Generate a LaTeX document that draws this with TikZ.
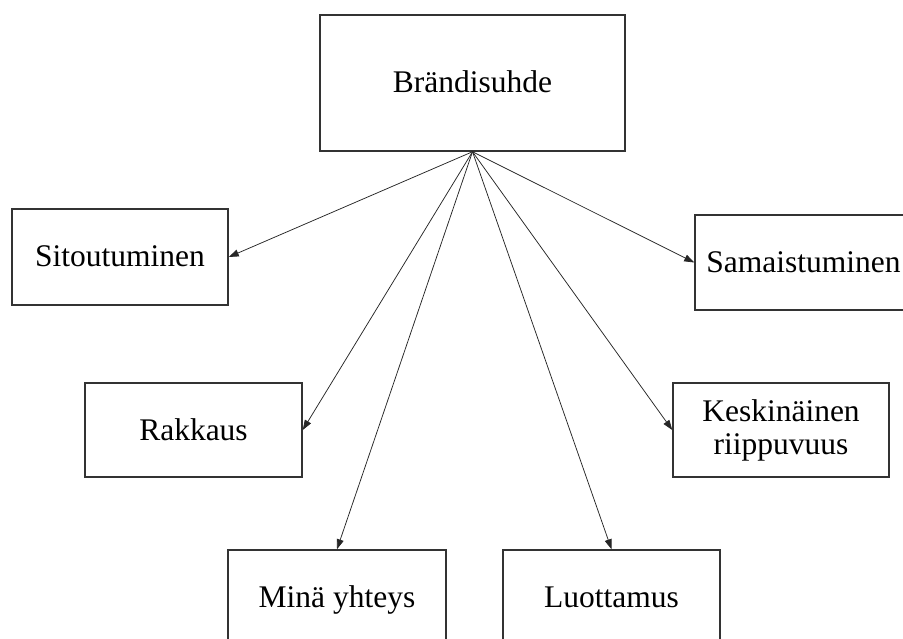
\documentclass[tikz,border=0pt]{standalone}
\usepackage{fontspec}
\setmainfont{Liberation Serif}
\usetikzlibrary{arrows.meta}
\tikzset{
  conceptbox/.style={draw=black!80, line width=1.5pt, fill=white, align=center,
    font=\fontsize{31.5}{33}\selectfont, inner sep=0pt},
  oneline/.style={conceptbox, text height=22pt, text depth=2pt},
  link/.style={draw=black!85, line width=0.75pt, -{Triangle[length=10pt,width=7pt]}}
}
\begin{document}
\begin{tikzpicture}[x=1pt, y=-1pt]
  \useasboundingbox (0,0) rectangle (903,639);
  % central concept
  \node[oneline, minimum width=305pt, minimum height=136pt] (brand) at (472.5,83) {Brändisuhde};
  % dimensions of the brand relationship
  \node[oneline, minimum width=216pt, minimum height=96pt] (sit) at (120,257) {Sitoutuminen};
  \node[oneline, minimum width=217pt, minimum height=95pt] (sam) at (803.5,262.5) {Samaistuminen};
  \node[oneline, minimum width=217pt, minimum height=94pt] (rak) at (193.5,430) {Rakkaus};
  \node[conceptbox, minimum width=216pt, minimum height=94pt] (kes) at (781,430) {Keskinäinen\\riippuvuus};
  \node[oneline, minimum width=218pt, minimum height=95pt] (min) at (337,597.5) {Minä yhteys};
  \node[oneline, minimum width=217pt, minimum height=95pt] (luo) at (611.5,597.5) {Luottamus};
  % connectors fan out from the bottom of the central box
  \draw[link] (brand.south) -- (sit.east);
  \draw[link] (brand.south) -- (sam.west);
  \draw[link] (brand.south) -- (rak.east);
  \draw[link] (brand.south) -- (kes.west);
  \draw[link] (brand.south) -- (min.north);
  \draw[link] (brand.south) -- (luo.north);
\end{tikzpicture}
\end{document}
